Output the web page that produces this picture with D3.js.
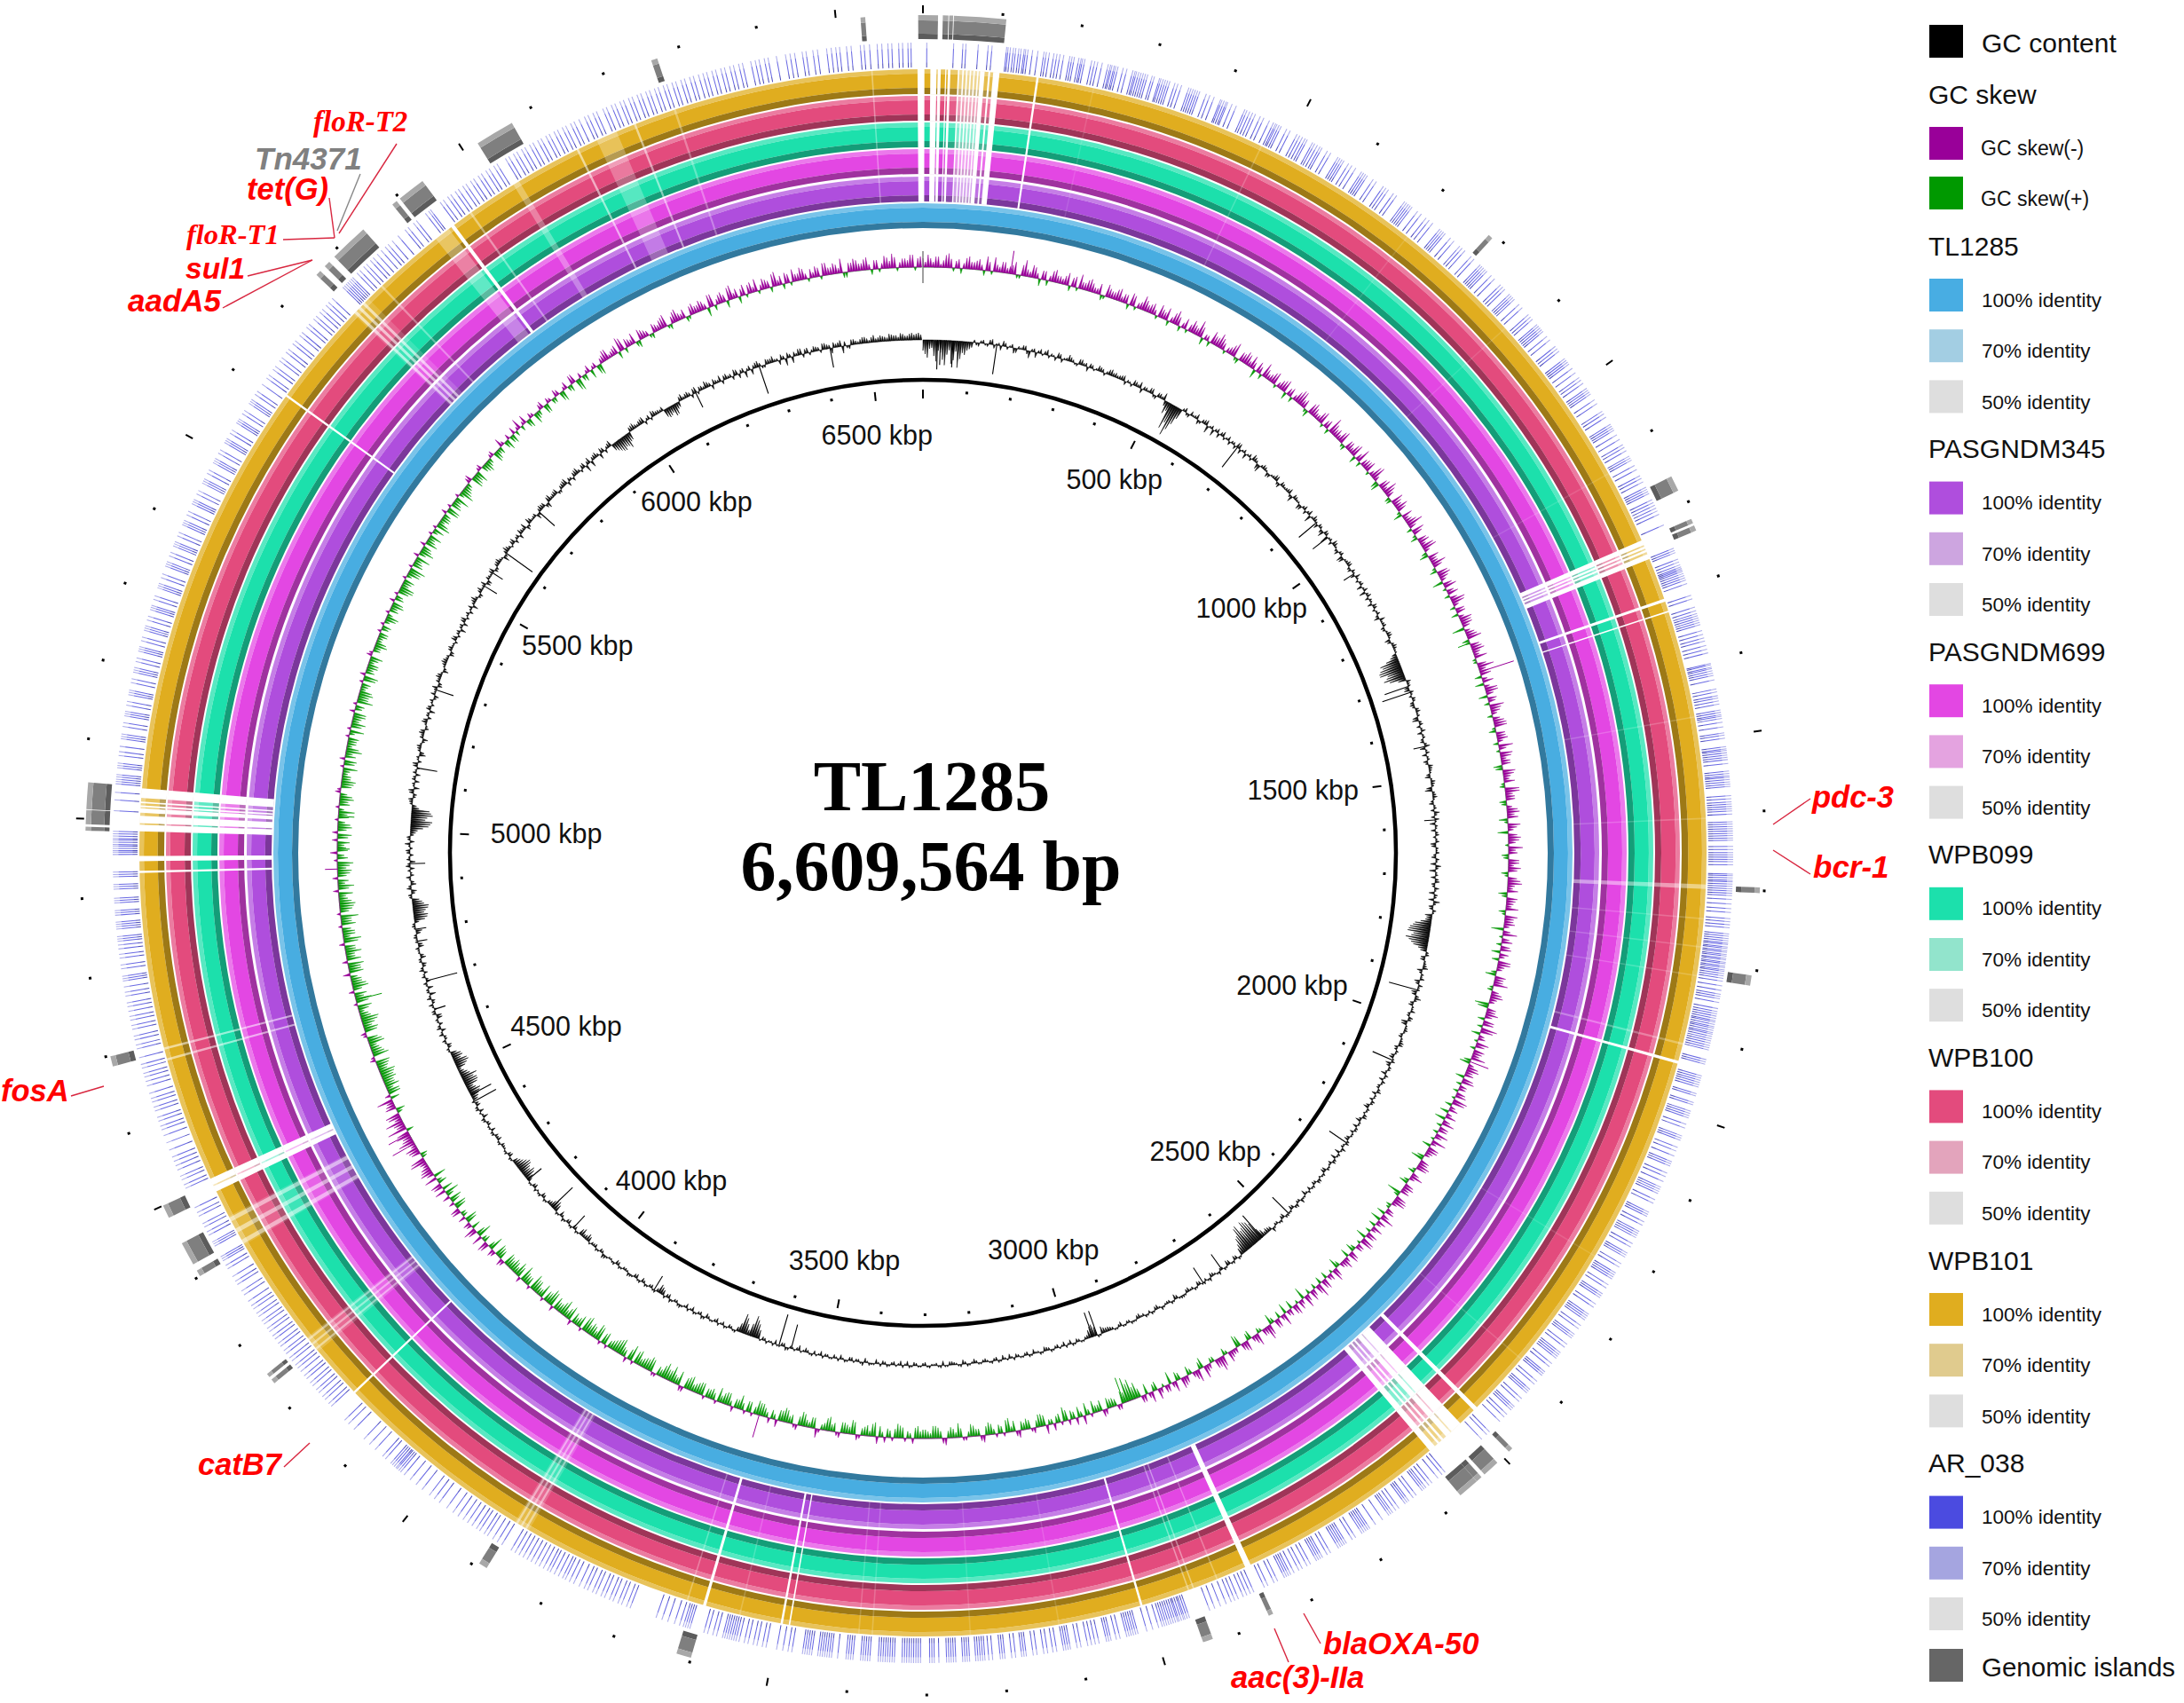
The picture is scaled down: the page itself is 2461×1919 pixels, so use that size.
<!DOCTYPE html>
<html><head><meta charset="utf-8">
<style>html,body{margin:0;padding:0;background:#fff;overflow:hidden}svg{display:block}</style>
<script src="https://cdn.jsdelivr.net/npm/d3@7/dist/d3.min.js"></script>
</head><body><div id="chart"></div>
<script>
// ---------- data (kbp unless noted; every value) ----------
const genomeLength = 6609.564;
const genomeName = "TL1285";
const genomeSize = "6,609,564 bp";
const tickLabelKbp = [500,1000,1500,2000,2500,3000,3500,4000,4500,5000,5500,6000,6500];

const ringNames = ["TL1285","PASGNDM345","PASGNDM699","WPB099","WPB100","WPB101"];
// opaque white breaks in the five comparison rings: [start, end]
const noHitSpans = [[-7.3,103],[153,156],[1221,1248],[1305,1309],[1322,1324],[1935,1939],[2479,2485],[2510,2565],[2851,2859],[3006,3009],[3484,3486],[3494,3497],[3600,3604],[4157,4160],[4487,4506],[4930,4933],[4946,4953],[4986,5044],[5611,5614],[5930,5935]];
// coloured fragments inside the breaks: [start, end, strength]
const fragmentSpans = [[2,10,1],[18.4,19.8,1],[24,30,1],[31.6,33.6,1],[37,47,.9],[49,53,.55],[55,58,.55],[60,63,.5],[65,68,.5],[70,73,.5],[75,77,.5],[83,88,.8],[90.5,94.5,.8],[1228,1230,.6],[1233,1235,.6],[1238,1241,.6],[2526,2528,.35],[2536,2541,.55],[2544,2548,.55],[2551,2556,.55],[4495,4497,.4],[4995,4997,.7],[5007,5011,.7],[5017,5018.5,.7],[5021,5024,.7],[5026,5031,.7]];
// low-identity pale bands: [start, end, paleness]
const lowIdentitySpans = [[230,232,.12],[469,471,.2],[700,702,.12],[880,882,.12],[1120,1122,.12],[1468,1470,.2],[1605,1607,.2],[1695,1701,.45],[1740,1742,.2],[1778,1780,.2],[1817,1819,.2],[1910,1913,.3],[2220,2222,.12],[2390,2392,.15],[2899,2901,.3],[2933,2935,.4],[2940,2942,.4],[3120,3122,.15],[3240,3242,.15],[3372,3374,.2],[3390,3392,.2],[3552,3554,.2],[3625,3627,.3],[3859,3881,.18],[3862,3865,.45],[3869,3872,.45],[3876,3879,.45],[4232,4256,.18],[4235,4238,.45],[4243,4246,.45],[4251,4254,.45],[4406,4450,.15],[4408,4414,.5],[4425,4431,.5],[4442,4448,.5],[4675,4678,.55],[4690,4693,.55],[5754,5783,.15],[5756,5760,.6],[5764,5768,.6],[5772,5776,.6],[5806,5809,.35],[5904,5926,.3],[5961,5964,.4],[6031,6040,.3],[6128,6131,.55],[6158,6187,.26],[6212,6215,.5],[6269,6272,.3],[6540,6542,.35]];

// AR_038 hit positions
const ar038Hits = [5,40,52,56,72,85,90,
109,111,114,118,121,125,128,132,134,137,143,150,158,161,165,171,175,179,184,192,195,198,204,207,209,212,221,225,229,235,243,246,248,251,253,256,263,268,276,279,281,284,287,290,293,296,302,305,312,314,317,320,323,326,333,337,342,352,355,358,361,364,367,376,381,387,396,398,401,404,406,412,418,430,433,437,441,445,452,457,465,471,474,476,479,482,490,495,505,509,513,517,520,528,531,535,539,542,
550,555,566,569,572,575,582,587,593,602,605,608,611,620,625,636,640,644,652,657,670,673,676,679,682,691,697,705,710,716,728,731,734,737,746,752,762,766,771,782,787,798,801,804,807,810,818,824,835,839,843,852,855,858,861,870,876,888,892,896,905,908,911,914,917,925,931,942,946,950,962,965,968,971,978,985,993,997,1002,1010,1013,1016,1019,1028,1034,1046,1050,1055,1066,1069,1072,1075,1082,1089,1097,1101,1106,1114,1117,1120,1128,1134,1143,1147,1152,1160,1163,1166,1169,1178,1182,1186,1190,1194,1199,1214,1247,1250,1253,
1262,1266,1270,1273,1275,1277,1279,1282,1285,1288,1291,1296,1312,1317,1328,1333,1337,1340,1343,1346,1349,1352,1360,1365,1370,1374,1380,1385,1390,1404,1406,1409,1411,1414,1417,1420,1426,1438,1442,1447,1450,1454,1458,1466,1469,1472,1474,1477,1482,1488,1496,1499,1503,1514,1517,1519,1522,1525,1528,1531,1536,1546,1549,1552,1554,1557,1560,1563,1566,1578,1582,1586,1589,1592,1595,1598,1602,1612,1615,1618,1621,1624,1627,1630,1633,1636,1644,1648,1652,1655,1658,1661,1664,1668,1680,1682,1685,1688,1690,1693,1696,1699,1702,1705,1708,1713,1719,1725,1730,1738,1742,1746,1750,1758,1761,1764,1767,1770,1772,1775,1777,1780,1782,1785,1787,1790,1792,1795,1797,1800,1802,1805,1807,1810,1813,1816,1820,1826,1832,1837,1840,1843,1848,1856,1860,1863,1866,1869,1872,1874,1877,1880,1882,1885,1888,1890,1893,1896,1899,1902,1905,1908,1911,1924,1927,1930,
1946,1949,1952,1955,1958,1961,1970,1973,1982,1985,1994,1997,2000,2003,2012,2017,2028,2031,2034,2044,2049,2056,2064,2067,2070,2080,2085,2092,2100,2103,2106,2109,2118,2123,2136,2139,2142,2150,2155,2164,2167,2170,2173,2182,2187,2196,2199,2202,2212,2217,2226,2229,2232,2235,2244,2249,2258,2261,2264,2274,2279,2290,2293,2296,2299,2308,2313,2322,2325,2328,2338,2343,2352,2355,2358,2361,2370,2375,2384,2387,2390,2400,2405,2414,2417,2420,2430,2435,2444,2447,2450,2458,2463,2471,2490,2495,2504,
2568,2573,2580,2590,2595,2600,2603,2606,2616,2621,2628,2631,2634,2644,2649,2654,2657,2660,2670,2681,2690,2693,2696,2699,2702,2712,2717,2726,2729,2732,2735,2738,2750,2755,2762,2765,2768,2771,2780,2785,2792,2797,2804,2809,2812,2815,2818,2828,2833,2842,2847,2862,2867,2872,2877,2884,2889,2894,2901,2909,2917,2924,2952,2955,2958,2960,2963,2966,2968,2971,2974,2977,2980,2983,2986,2989,2994,3002,3010,3022,3025,3028,3031,3034,3037,3046,3051,3058,3061,3064,3074,3079,3084,3089,3098,3103,3112,3115,3118,3121,3130,3135,3142,3147,3156,3161,3170,3173,3176,3184,3189,3198,3201,3204,3214,3219,3224,3227,3230,3233,3236,3244,3247,3250,3253,3262,3265,3268,3271,3274,3284,3290,3293,3296,3308,3311,3314,3317,3320,3323,3326,3329,3332,3342,3345,3348,3351,3354,3357,3360,3363,3374,3377,3380,3383,3386,3396,3399,3402,3405,3416,3424,3427,3430,3433,3436,3439,3442,3450,3453,3456,3459,3462,3476,3481,3488,3496,3510,3515,3522,3527,3534,3539,3546,3550,3553,3556,3559,3562,3565,3568,3576,3581,3588,3593,
3612,3615,3618,3621,3626,3633,3642,3650,3658,3694,3699,3706,3711,3718,3723,3730,3735,3742,3747,3754,3759,3766,3774,3780,3786,3790,3796,3802,3808,3812,3818,3824,3830,3836,3842,3848,3854,3860,3866,3880,3887,3894,3902,3907,3914,3919,3926,3933,3940,3948,3956,3966,3978,3986,3994,4006,4016,4026,4036,4042,4045,4048,4050,4053,4056,4059,4068,4073,4086,4096,4106,4124,4134,4141,4166,4171,4178,4183,4190,4195,4202,4207,4214,4219,4226,4232,4237,4244,4249,4256,4261,4268,4273,4280,4285,4292,4297,4304,4309,4316,4321,4328,4333,4340,4350,4356,4366,4371,4378,4390,4395,4402,4405,4408,4424,4427,4430,4440,4445,4452,4457,4468,4473,4480,
4508,4513,4520,4525,4534,4540,4546,4552,4562,4572,4582,4590,4595,4602,4607,4616,4621,4628,4633,4640,4650,4656,4662,4667,4674,4679,4688,4700,4705,4712,4717,4726,4731,4738,4743,4750,4756,4761,4770,4775,4782,4790,4793,4796,4806,4811,4820,4825,4832,4837,4842,4845,4848,4858,4861,4864,4867,4876,4879,4882,4892,4895,4898,4910,4913,4916,4926,4929,4932,4955,4958,4960,4963,4966,4968,4971,4974,4976,4979,4982,4985,5012,5026,5036,
5047,5050,5053,5056,5059,5068,5071,5074,5084,5089,5096,5106,5109,5112,5122,5127,5136,5139,5142,5150,5155,5164,5167,5170,5180,5185,5194,5197,5200,5208,5213,5222,5225,5228,5236,5241,5250,5253,5256,5264,5269,5278,5281,5284,5292,5297,5308,5311,5314,5322,5327,5338,5341,5344,5352,5357,5366,5369,5372,5380,5385,5396,5399,5402,5410,5415,5426,5429,5432,5440,5445,5456,5459,5462,5470,5475,5486,5489,5492,5500,5505,5516,5519,5522,5530,5535,5546,5549,5552,5560,5565,5576,5579,5582,5590,5595,5606,
5616,5621,5630,5635,5644,5649,5658,5663,5672,5677,5686,5691,5700,5705,5714,5719,5726,5731,5738,5743,5750,5770,5773,5776,5779,5782,5785,5788,5796,5801,5808,5813,5820,5825,5832,5839,5846,5851,5858,5868,5880,5885,5894,5899,5914,5919,5922,5938,5943,5950,5955,5962,5967,5974,5979,5986,5991,5998,6003,6010,6015,6022,6027,6040,6045,6052,6057,6064,6069,6076,6081,6088,6093,6100,6105,6112,6117,6124,6129,6136,6141,6148,6156,6161,6168,6173,6182,6187,6194,6199,6206,6211,6218,6223,6230,6235,6242,6247,6254,6259,6266,6271,6278,6283,6290,6295,6302,6307,6314,6320,6325,6332,6337,6344,6349,6356,6361,6368,6373,6384,6390,6395,6402,6407,6418,6430,6436,6442,6452,6457,6466,6472,6484,6490,6496,6501,6510,6516,6528,6533,6540,6550,6556,6564,6569,6578,6583,6590,6594];

// genomic islands: [start, end]
const islandSpans = [[-6,19],[25,32],[33,38],[39,105],[780,786],[1162,1182],[1221,1227],[1230,1237],[1696,1703],[1807,1820],[2484,2490],[2510,2532],[2537,2545],[2545,2572],[2851,2857],[2933,2946],[3600,3619],[3881,3892],[4236,4242],[4246,4251],[4400,4408],[4417,4447],[4483,4500],[4686,4699],[4985,4990],[4993,5011],[5012,5046],[5758,5765],[5773,5781],[5790,5840],[5888,5895],[5900,5936],[6020,6070],[6262,6270],[6531,6537]];

// GC skew, two interleaved reads per 0.5 degree: positive = GC skew(-) purple, negative = GC skew(+) green
const gcSkewBins = [
5,7,3,6,4,8,-2,5,3,7,4,6,-3,5,8,3,6,4,7,-2,9,3,6,-4,5,3,7,4,5,-3,6,8,4,7,3,6,-2,5,4,7,5,-3,6,3,8,
4,6,-2,5,7,3,8,-3,6,4,5,9,-4,3,7,5,6,-2,4,8,-3,5,6,7,-5,4,8,3,6,-2,5,7,4,-3,6,8,5,-4,7,3,6,-2,5,9,4,
3,7,-3,5,6,-4,8,4,5,-2,7,3,-5,6,8,4,-3,5,7,-2,6,4,9,-3,5,-4,6,7,3,-5,4,8,-2,6,5,-6,7,4,-3,8,3,5,-4,7,6,
-7,5,8,-3,6,4,7,-2,9,5,-4,6,3,7,-5,4,8,5,-3,6,7,-4,5,3,8,-2,6,5,-5,7,4,6,-3,8,5,-4,3,7,6,-2,5,-6,7,4,8,
5,-3,6,7,-4,5,8,3,-5,6,4,7,-2,5,6,-7,8,4,-3,6,5,-4,7,3,-6,5,8,-3,6,4,-8,5,7,-4,6,9,-5,4,7,-3,5,8,-6,6,4,
-5,7,4,-3,6,8,-4,5,3,-6,7,5,-3,4,8,-5,6,3,-7,5,6,-4,7,-3,5,4,-8,6,7,-3,4,-5,8,5,-4,3,6,-6,7,4,-3,5,-5,6,3,
-6,7,4,-4,5,8,-3,6,4,-7,5,6,-5,3,7,-4,5,-6,8,4,-3,5,-5,6,4,-7,3,6,-4,8,5,-3,4,-6,7,3,-5,5,-4,6,-7,4,3,-5,6,
-6,4,-9,-12,-14,-7,3,-5,-6,4,-4,-7,-3,5,-6,-4,3,-8,-5,4,-3,-6,-7,3,-5,-4,4,-6,-8,2,-5,-3,-7,4,-4,-6,-3,2,-8,-5,-4,3,-6,-7,-4,
-5,-7,3,-4,-6,-8,2,-5,-3,4,-7,-6,-4,3,-8,-5,-6,2,-4,-7,-3,5,-6,-4,-8,3,-5,-7,-6,4,-5,-3,-7,-8,2,-6,-4,-5,3,-7,-6,-8,-4,-5,2,
-7,-5,-8,-6,3,-4,-9,-6,-7,-5,2,-8,-6,-4,-7,-9,3,-5,-8,-6,-4,-7,2,-9,-6,-5,-8,-7,-4,3,-6,-9,-5,-7,-8,-6,2,-4,-7,-9,-5,-6,3,-8,-6,
-5,-7,4,-6,3,-8,5,-4,6,-5,7,3,-6,4,-3,5,-7,-5,4,-8,-6,6,-3,-7,7,5,4,8,-4,6,3,9,5,7,11,6,4,8,-5,5,9,3,-7,-8,-6,
-7,-9,-6,-8,2,-7,-5,-9,-6,3,-8,-7,-10,-5,-6,2,-9,-7,-5,-8,-6,4,-7,-9,-8,-5,-6,3,-10,-7,-5,-8,-6,2,-7,-9,-5,-8,-6,-4,3,-7,-5,-9,-6,
4,-5,-7,-6,3,-8,-4,-6,-9,2,-5,-7,3,-6,-8,-5,-4,2,-7,-6,-9,-3,-5,2,-8,-6,-4,-7,3,-5,-9,-6,-7,-4,2,-8,-5,-6,-3,-7,2,-4,-6,-3,-5,
-4,2,-6,-3,-5,-7,3,-4,-6,-8,-5,2,-7,-9,-6,-4,3,-8,-5,-7,-4,2,-6,-8,-3,-5,3,-7,-6,-4,2,-8,-5,-3,4,-6,-7,3,-5,-4,2,-6,-3,5,-4,
3,-5,-3,6,2,-4,3,-6,-3,4,-5,2,-3,3,-6,4,-4,5,-7,-3,2,-5,3,-6,4,6,3,5,8,-3,4,6,-4,5,3,-3,4,5,7,-3,6,4,5,-2,6,
4,5,-5,7,3,6,-4,8,5,4,-2,6,7,3,5,-3,8,5,6,-2,4,7,3,5,6,-2,7,4,5,8,-3,5,6,4,7,-3,5,3,6,8,-2,5,4,7,5];
const gcSkewBinsB = [
3,5,6,2,7,5,4,-3,6,4,5,3,8,-2,4,6,3,5,-2,6,4,7,3,5,-3,6,4,3,7,5,-2,4,6,5,3,-3,7,4,6,3,5,7,-2,4,6,
5,3,7,4,-3,6,5,3,-2,7,4,6,3,-3,5,8,4,3,6,-2,5,7,3,4,6,-3,5,4,7,3,6,-4,5,3,8,4,-2,6,5,3,7,4,-3,6,5,
6,-2,5,3,7,4,-3,5,6,3,8,-4,5,3,6,-3,7,4,5,-5,3,6,4,7,-2,5,3,8,-3,6,4,5,-4,7,3,5,-2,6,4,7,-3,5,3,6,4,
3,6,-4,5,7,3,-2,5,4,6,3,-5,7,4,5,-3,6,3,4,7,-2,5,6,-3,4,7,3,5,-4,6,3,-2,8,4,5,-3,6,4,-5,7,3,5,6,-2,4,
-4,6,3,5,-2,7,4,6,-3,5,3,-4,7,5,3,4,-2,6,5,-5,3,7,4,-3,6,5,-2,4,7,3,-6,5,4,6,-3,7,3,-2,5,6,4,-4,3,7,5,
6,-3,4,5,-2,7,3,-5,6,4,-3,5,7,-2,3,6,4,-4,5,7,-2,4,3,-5,6,5,-3,7,3,-2,5,4,-6,3,6,-3,5,7,-2,4,-5,6,3,4,-3,
5,-2,3,6,-4,5,4,-3,7,3,-2,5,4,-6,3,5,-3,6,4,-2,7,3,-4,5,-6,3,4,-2,6,5,-3,3,7,-4,5,-3,4,6,-5,3,4,-2,6,-4,3,
4,-5,-7,-10,-6,3,-4,-5,3,-6,-4,2,-7,-3,4,-5,-6,2,-4,-3,5,-7,-4,2,-6,-5,3,-3,-7,-4,2,-6,-5,3,-4,-7,2,-5,-3,-6,4,-4,-7,-3,-5,
-4,-6,-3,2,-7,-5,-4,3,-6,-8,-3,-5,2,-7,-4,-6,3,-5,-8,-4,2,-6,-3,-7,-5,2,-4,-8,-6,-3,3,-5,-7,-4,-6,2,-8,-5,-3,-7,-4,2,-6,-5,-7,
-6,-4,-7,3,-8,-5,-6,-9,-4,2,-7,-6,-5,-8,2,-6,-4,-9,-7,-5,2,-6,-8,-4,-7,-9,2,-5,-6,-8,-4,-7,-5,3,-9,-6,-8,-4,-7,2,-5,-9,-6,-4,-7,
-6,3,-5,-7,4,-4,6,-3,-8,5,-5,4,-7,-3,5,-6,3,-7,-4,6,5,-5,7,4,6,3,9,-3,5,7,4,6,8,-4,5,10,7,-3,6,4,-5,-7,-4,-6,-8,
-8,-5,-7,3,-9,-6,-4,-8,2,-7,-5,-9,-6,-3,-8,-7,-5,3,-9,-6,-4,-8,-7,3,-5,-9,-6,-8,-4,-7,2,-6,-10,-5,-8,-7,-4,3,-9,-6,-5,-8,-7,2,-4,
-6,-4,3,-8,-5,-7,2,-5,-3,-6,-8,-4,2,-7,-5,-3,-8,-6,3,-4,-7,-5,-6,-3,2,-8,-5,-7,-4,2,-6,-8,-3,-5,-7,3,-4,-6,-5,3,-4,-7,-3,-5,2,
-5,-3,-7,2,-4,-6,-5,2,-8,-4,-6,-3,-7,2,-5,-8,-4,-6,3,-5,-7,-3,2,-6,-5,-4,-7,2,-5,-8,-3,-6,-4,3,-7,-5,2,-4,-6,-3,3,-5,-4,2,-6,
-4,4,2,-3,5,-5,2,-4,3,-5,3,-3,4,-5,2,-3,5,-6,3,-4,4,2,-5,3,6,2,4,-4,7,5,3,-3,6,4,-2,5,3,6,-2,4,7,3,-3,5,4,
6,3,7,-3,5,4,7,3,-4,6,5,3,-2,6,4,7,3,-3,5,7,4,6,-2,3,5,7,4,6,3,-3,5,7,4,6,3,5,-2,7,4,6,3,5,7,-2,6];
// isolated long skew spikes: [position, value]
const gcSkewSpikes = [[158,13],[1322,20],[1267,-7],[2036,11],[2936,-15],[3603,13],[4411,14],[4431,13],[4690,-15],[4928,7],[4964,-7],[5023,-9]];

// GC content, two interleaved reads per 0.5 degree (negative points to the centre)
const gcContentBins = [
-12,-20,-9,-24,-14,-28,-11,-22,-30,-13,-10,-6,-3,3,-2,5,-4,3,6,-3,4,-5,2,5,-8,4,3,-2,6,3,-4,5,2,7,3,-3,6,4,5,-2,6,4,3,7,5,
4,6,3,-3,5,7,4,2,6,-4,5,8,-14,-30,-36,-20,3,-3,5,3,-5,4,6,2,-7,5,4,-3,5,3,-4,6,2,-6,4,7,3,-8,5,2,-4,3,6,-5,4,
3,6,-7,4,2,-5,5,3,-8,6,2,4,-4,5,-9,3,6,2,-5,4,-6,3,5,-4,2,6,-3,4,2,-7,5,3,-5,4,2,-3,6,3,-4,2,5,-6,3,4,2,
-8,-22,-24,-26,-20,-18,5,3,-6,2,4,-4,-3,5,3,-7,4,2,-5,3,-4,6,2,-5,3,-3,4,2,-6,5,3,-8,4,2,-5,3,6,-4,2,3,-5,4,2,-6,3,
4,-5,2,6,-7,3,4,-4,5,-6,3,7,-5,4,-8,-7,-18,-23,-25,-20,-22,-16,-7,4,-5,3,6,-3,2,-6,5,3,-5,7,-4,2,5,-3,4,-6,3,2,-4,3,5,
-3,2,-5,4,-4,3,-6,2,4,-3,3,-5,2,4,-4,3,-2,5,-6,2,3,-4,2,-5,4,-3,2,3,-6,4,-2,3,-5,2,4,-3,3,-4,-2,2,5,-3,3,-5,2,
3,-4,2,-3,5,-5,-4,-12,-26,-30,-22,-28,-18,-8,3,-5,2,-6,3,-3,2,-4,4,-3,2,-5,3,-2,-4,3,2,-6,3,-3,2,-2,-4,3,2,-3,-5,2,3,-3,2,
-3,2,-4,-5,-8,3,-14,-9,-3,2,-4,3,-2,-5,2,-3,3,-4,2,-2,-5,3,-3,2,-4,-2,2,-5,3,-3,2,-4,2,-3,-2,3,-5,2,-3,-4,2,3,-3,-2,2,
-3,2,-4,3,-2,-5,2,-3,3,-4,-2,2,3,-5,2,-3,-4,2,-2,3,-4,2,-3,-5,2,3,-3,-2,-6,2,-3,4,-4,2,3,-2,-3,2,-16,-24,-6,-18,-10,3,-3,
2,-4,3,-3,2,-5,4,-3,3,-2,-5,2,3,-3,4,-4,-6,-10,3,-4,2,-3,3,-5,2,4,-3,2,-4,3,-2,2,5,-4,3,-3,2,-8,-4,-7,3,-5,2,-4,4,
-6,3,-11,-8,-4,3,-5,2,3,-4,2,-8,-14,-12,-16,-10,-6,3,-4,2,-3,3,-5,-4,3,2,-4,3,-6,2,4,-5,3,-8,-12,-10,-14,-16,-18,-9,-4,-13,-15,-12,-7,
3,-5,4,-3,2,5,-4,3,-6,4,2,-3,5,-7,3,2,-5,4,-4,3,-5,3,-4,2,-6,3,4,-5,2,3,-12,-16,-14,-18,-11,3,-4,5,-6,2,-4,3,5,-6,2,
4,-3,6,3,-4,-8,-20,-24,-18,-22,-8,3,5,-4,6,2,-5,3,4,-3,6,2,-7,3,5,-3,4,6,-4,2,5,3,-6,4,2,-3,5,3,-5,4,6,2,-3,4,5,
3,-4,5,2,6,-3,4,3,-5,6,2,-4,5,3,7,-3,4,2,6,-5,3,5,-4,4,6,2,-3,7,3,5,-4,4,6,3,-5,7,2,4,-3,6,5,-6,7,4,6,
-3,5,7,4,-4,6,3,5,-8,7,4,6,-6,5,3,7,-10,-14,-12,-16,-9,6,4,5,7,3,-3,6,4,5,-11,-8,-12,-6,7,5,4,6,-3,5,8,4,6,3,-4,
6,4,7,-5,5,3,-6,6,4,-3,5,7,3,6,-8,4,5,7,-4,6,3,5,-3,7,4,6,5,-8,-3,6,4,5,7,3,8,5,6,4,7,6,8,5,7,6,8];
const gcContentBinsB = [
-16,-10,-18,-12,-22,-16,-26,-12,-20,-15,-8,3,-4,4,-3,6,2,-5,4,2,-6,3,5,-4,3,-6,5,4,-3,2,6,-4,3,5,-2,6,3,-5,4,2,5,-3,6,4,3,
5,-4,2,6,3,-5,4,6,-3,5,3,-6,-10,-22,-28,-12,5,-4,2,6,-3,5,-8,4,3,-5,6,2,-4,3,6,-5,4,2,-3,5,-6,3,4,-5,2,6,-3,5,2,
4,-3,5,2,-6,3,-4,6,2,4,-5,3,-7,4,2,-4,5,-3,3,-7,2,5,-3,4,-5,2,3,-6,5,3,-4,2,5,-3,4,-6,2,4,-3,5,2,-4,5,2,-5,
-14,-20,-26,-18,-24,-9,3,-5,4,-3,3,-5,4,2,-6,3,-4,5,2,-3,3,-6,4,2,-5,5,3,-4,2,4,-6,3,5,-3,2,-4,3,5,-6,2,3,-3,4,-5,2,
-3,4,-6,3,2,-5,5,-3,2,4,-6,3,-4,2,-6,-12,-20,-24,-18,-26,-19,-10,3,-5,2,4,-6,3,5,-4,2,-6,4,3,-5,2,-3,5,-7,2,4,-3,2,5,-4,
3,-4,2,-6,3,-2,4,-5,2,-3,5,2,-4,3,-6,2,4,-3,2,-5,3,2,-4,3,-2,5,-6,2,3,-4,2,-5,3,-2,4,-4,2,3,-6,2,-3,4,-4,2,3,
-5,3,-3,2,-4,-6,-8,-22,-28,-24,-30,-20,-12,2,-4,3,-5,2,-3,4,-2,-5,2,3,-4,2,-3,-5,2,3,-4,2,-3,-2,4,-5,2,-3,3,-2,-4,2,-3,2,-5,
2,-3,-5,-6,2,-10,-12,-4,2,-3,2,-5,3,-2,-4,2,-3,-5,3,-2,2,-4,2,-3,3,-5,-2,2,-4,3,-2,-3,2,-5,2,-3,3,-2,-4,2,-5,2,-2,3,-4,
2,-3,2,-5,3,-2,-4,2,-3,3,-5,2,-2,4,-3,2,-4,3,-5,-2,2,-3,3,-2,-4,2,-5,2,-3,-2,3,-4,2,-5,-2,3,-4,-10,-20,-14,-12,-22,-5,2,-4,
3,-2,-5,2,-3,3,-4,2,-5,3,-2,4,-3,2,-5,3,-8,-4,2,-3,3,-5,2,-4,3,-2,-3,3,-5,2,-2,4,-3,2,-4,-3,-6,-5,-9,2,-4,3,-5,2,-3,
2,-8,-10,-5,2,-4,3,-2,-5,2,-5,-12,-10,-15,-13,-8,2,-5,3,-2,-4,2,-3,3,-5,2,-3,4,-2,-5,3,-4,-6,-10,-14,-8,-16,-13,-11,-6,-10,-16,-9,-11,2,
-4,2,-3,5,-5,3,2,-6,4,-3,5,-4,2,3,-6,4,-3,2,5,-4,3,-6,2,4,-5,2,3,-7,4,-5,-15,-12,-17,-13,-8,4,-6,3,-4,5,-2,-5,3,4,-4,
5,2,-5,4,-6,-14,-22,-16,-24,-20,-5,4,-3,5,-6,3,4,-5,2,5,-4,3,-5,4,2,-6,3,5,-2,6,-4,3,5,-3,4,-5,2,6,-4,3,5,-6,2,6,3,
-5,4,2,-3,5,3,-6,4,5,-3,4,2,-6,5,3,-4,6,3,-5,4,2,6,-3,5,3,-7,4,5,-2,6,3,-5,4,7,-3,5,3,-6,4,5,-4,6,3,5,-3,
4,6,-5,3,5,7,-3,6,4,-7,5,3,6,-4,5,-8,-12,-15,-13,-10,5,7,3,6,-4,5,7,4,3,-9,-10,-13,-7,5,3,6,-4,7,5,3,6,-5,4,7,5,
3,-4,6,4,-7,5,4,7,-3,6,5,3,-5,4,6,-7,3,7,5,-3,6,4,7,5,-6,4,7,5,-4,6,3,7,5,6,4,7,5,8,6,4,7,5,8,7,6];
// isolated long GC-content spikes: [position, value]
const gcContentSpikes = [[30,-33],[36,-28],[62,-30],[152,-33],[694,-28],[918,-25],[956,-21],[1048,-13],[1305,-28],[1318,-33],[1433,-13],[1585,-12],[1937,-33],[2090,-24],[2284,-23],[2471,-25],[2545,-33],[2650,-21],[2697,-20],[2940,-29],[2950,-29],[3578,-28],[3604,-36],[3885,-18],[4094,-19],[4155,-32],[4230,-20],[4425,-28],[4440,-26],[4631,-13],[4692,-36],[4775,-11],[4800,-12],[4935,-17],[5132,-23],[5297,-20],[5532,-16],[5564,-13],[5613,-36],[5721,-23],[6127,-18],[6268,-32],[6418,-22]];

// resistance / element labels
const geneNames = ["floR-T2","Tn4371","tet(G)","floR-T1","sul1","aadA5","pdc-3","bcr-1","fosA","catB7","blaOXA-50","aac(3)-IIa"];

// legend
const legendGroups = ["TL1285","PASGNDM345","PASGNDM699","WPB099","WPB100","WPB101","AR_038"];
const legendLevels = ["100% identity","70% identity","50% identity"];

// ---------- style ----------
const W=2461,H=1919,cx=1040,cy=961;
const ringFull  = ["#48ADE1","#AF4EDD","#E347E3","#1CE0AC","#E34B7D","#E0AD1F"];
const swatchFull= ["#48ADE3","#AF4EDD","#E347E3","#1CE0AC","#E34B7D","#E0AD1F","#4B4BE0"];
const swatchPale= ["#A3CEE3","#CDA5E0","#E4A3E0","#92E4CC","#E3A4BC","#E0CB8E","#A5A5E0"];
const ringOuter = [732,762,793,823,853,883];
const ringWidth = 28;
const genePlace = [ // text x, baseline y, size, style, colour
 [353,148,33,"s","#f00"],[287,191,35,"i","#808080"],[278,225,34.5,"i","#f00"],[210,275,32.5,"s","#f00"],
 [209,314,33.5,"i","#f00"],[144,351,35,"i","#f00"],[2042,910,34.5,"i","#f00"],[2043,989,35,"i","#f00"],
 [1,1241,34.5,"i","#f00"],[223,1662,34.5,"i","#f00"],[1491,1864,34.7,"i","#f00"],[1387,1902,34.7,"i","#f00"]];
const leaders = [[447,162,382,263,"#d8263f"],[406,196,380,260,"#888"],[371,223,377,268,"#d8263f"],[319,270,377,268,"#d8263f"],
 [352,293,279,311,"#d8263f"],[352,293,251,347,"#d8263f"],[1998,929,2040,900,"#d8263f"],[1998,958,2040,985,"#d8263f"],
 [80,1235,117,1224,"#d8263f"],[320,1653,349,1626,"#d8263f"],[1469,1818,1488,1852,"#d8263f"],[1436,1835,1452,1873,"#d8263f"]];
const labelR = [473,462,434,442,463,467,467,465,447,425,454,471,474];
const labelNudge = [-.1,-1.2,-1.1,.8,.4,-.3,.3,-.3,-1,.7,1.4,.4,-.3];

// ---------- scales ----------
const angle = d3.scaleLinear().domain([0,genomeLength]).range([0,2*Math.PI]);
const skewR = d3.scaleLinear().domain([-10,10]).range([640,680]);
const gcR   = d3.scaleLinear().domain([-40,10]).range([538,588]);
const arc = d3.arc();
const polar=(r,a)=>[r*Math.sin(a),-r*Math.cos(a)];

const svg=d3.select("#chart").append("svg").attr("width",W).attr("height",H).attr("viewBox",[0,0,W,H]);
svg.append("rect").attr("width",W).attr("height",H).attr("fill","#fff");
const g=svg.append("g").attr("transform",`translate(${cx},${cy})`);

// bevelled band: three concentric arcs
function bevel(sel,color,rOut,a0,a1,opacity,w=ringWidth){
  const c=d3.color(color), light=d3.interpolateRgb(color,"#fff")(.27), dark=d3.interpolateRgb(color,"#000")(.3);
  const lw=w*.18, dw=w*.25;
  [[rOut-lw,rOut,light],[rOut-w+dw,rOut-lw,c.formatHex()],[rOut-w,rOut-w+dw,dark]].forEach(([i,o,f])=>{
    sel.append("path").attr("d",arc({innerRadius:i,outerRadius:o,startAngle:a0,endAngle:a1})).attr("fill",f).attr("fill-opacity",opacity);
  });
}
// rings
ringNames.forEach((name,k)=>{
  const rg=g.append("g").attr("class","ring").attr("data-name",name);
  bevel(rg,ringFull[k],ringOuter[k],0,2*Math.PI,1);
  if(k===0) return;
  const ri=ringOuter[k]-ringWidth-.5, ro=ringOuter[k]+.5;
  rg.selectAll("path.gap").data(noHitSpans).join("path").attr("class","gap")
    .attr("d",d=>arc({innerRadius:ri,outerRadius:ro,startAngle:angle(d[0]),endAngle:angle(d[1])})).attr("fill","#fff");
  rg.selectAll("path.low").data(lowIdentitySpans).join("path").attr("class","low")
    .attr("d",d=>arc({innerRadius:ri,outerRadius:ro,startAngle:angle(d[0]),endAngle:angle(d[1])})).attr("fill","#fff").attr("fill-opacity",d=>d[2]);
  fragmentSpans.forEach(d=>bevel(rg,ringFull[k],ringOuter[k],angle(d[0]),angle(d[1]),d[2]));
});

// AR_038 hits with a radial gradient that carries the bevel
const defs=svg.append("defs");
const rOutAR=913,rInAR=885;
const grad=defs.append("radialGradient").attr("id","arGrad").attr("gradientUnits","userSpaceOnUse")
  .attr("cx",0).attr("cy",0).attr("r",rOutAR).attr("fx",0).attr("fy",0);
[[rInAR/rOutAR,"#2020a8"],[890/rOutAR,"#2020a8"],[891/rOutAR,"#4444dc"],[906/rOutAR,"#4444dc"],[907/rOutAR,"#9696e6"],[1,"#9696e6"]]
 .forEach(([o,c])=>grad.append("stop").attr("offset",o).attr("stop-color",c));
g.append("g").selectAll("path").data(ar038Hits).join("path")
  .attr("d",d=>arc({innerRadius:rInAR,outerRadius:rOutAR,startAngle:angle(d-.6),endAngle:angle(d+.6)}))
  .attr("fill","url(#arGrad)").attr("fill-opacity",.8);

// genomic islands
g.append("g").selectAll("g").data(islandSpans).join("g").each(function(d){
  const s=d3.select(this),a0=angle(d[0]),a1=angle(d[1]);
  [[917,923,"#5c5c5c"],[923,938,"#7f7f7f"],[938,944,"#a8a8a8"]].forEach(([i,o,f])=>
    s.append("path").attr("d",arc({innerRadius:i,outerRadius:o,startAngle:a0,endAngle:a1})).attr("fill",f));
});

// comb of teeth: each read rises from the baseline and falls straight back
function teeth(a,b){
  const merged=d3.merge(a.map((v,i)=>[v,b[i]===undefined?0:b[i]]));
  const n=merged.length;
  return merged.flatMap((v,i)=>[{p:i/n*genomeLength,v},{p:(i+.5)/n*genomeLength,v:0}]);
}
const skewTeeth=teeth(gcSkewBins,gcSkewBinsB);
const skewPos=d3.areaRadial().angle(d=>angle(d.p)).innerRadius(skewR(0)).outerRadius(d=>skewR(Math.max(d.v,0)));
const skewNeg=d3.areaRadial().angle(d=>angle(d.p)).innerRadius(d=>skewR(Math.min(d.v,0))).outerRadius(skewR(0));
g.append("path").attr("d",skewNeg(skewTeeth)).attr("fill","#0a9a0a").attr("stroke","#0a9a0a").attr("stroke-width",.45);
g.append("path").attr("d",skewPos(skewTeeth)).attr("fill","#990099").attr("stroke","#990099").attr("stroke-width",.45);
g.append("g").selectAll("line").data(gcSkewSpikes).join("line")
  .attr("x1",d=>polar(skewR(0),angle(d[0]))[0]).attr("y1",d=>polar(skewR(0),angle(d[0]))[1])
  .attr("x2",d=>polar(skewR(d[1]),angle(d[0]))[0]).attr("y2",d=>polar(skewR(d[1]),angle(d[0]))[1])
  .attr("stroke",d=>d[1]>0?"#990099":"#0a9a0a").attr("stroke-width",1);
g.append("line").attr("y1",-skewR(9)).attr("y2",-skewR(-9)).attr("stroke","#777").attr("stroke-width",1.4);
// GC content
const gc0=gcR(0);
const gcTeeth=teeth(gcContentBins,gcContentBinsB);
const gcArea=d3.areaRadial().angle(d=>angle(d.p)).innerRadius(gc0).outerRadius(d=>gcR(d.v));
g.append("path").attr("d",gcArea(gcTeeth)).attr("fill","#111").attr("stroke","#000").attr("stroke-width",.5);
g.append("g").selectAll("line").data(gcContentSpikes).join("line")
  .attr("x1",d=>polar(gc0,angle(d[0]))[0]).attr("y1",d=>polar(gc0,angle(d[0]))[1])
  .attr("x2",d=>polar(gcR(d[1]),angle(d[0]))[0]).attr("y2",d=>polar(gcR(d[1]),angle(d[0]))[1])
  .attr("stroke","#000").attr("stroke-width",1.1);

// backbone circle and ticks
g.append("circle").attr("r",533).attr("fill","none").attr("stroke","#000").attr("stroke-width",4.5);
const ticks=d3.range(0,6600,100);
const major=t=>t%500===0;
function tickLayer(ri,ro,riM,roM){
  g.append("g").selectAll("line").data(ticks).join("line")
   .attr("x1",t=>polar(major(t)?riM:ri,angle(t))[0]).attr("y1",t=>polar(major(t)?riM:ri,angle(t))[1])
   .attr("x2",t=>polar(major(t)?roM:ro,angle(t))[0]).attr("y2",t=>polar(major(t)?roM:ro,angle(t))[1])
   .attr("stroke","#000").attr("stroke-width",t=>major(t)?2:3);
}
tickLayer(519,522,512,522);
tickLayer(947.5,950.5,946,955);

// tick labels
g.append("g").selectAll("text").data(tickLabelKbp).join("text")
  .attr("x",(d,i)=>polar(labelR[i],angle(d)+labelNudge[i]*Math.PI/180)[0])
  .attr("y",(d,i)=>polar(labelR[i],angle(d)+labelNudge[i]*Math.PI/180)[1])
  .attr("text-anchor","middle").attr("dominant-baseline","central")
  .attr("font-family","'Liberation Sans',Arial,sans-serif").attr("font-size",30.5).attr("fill","#111")
  .text(d=>d+" kbp");

// title
svg.append("g").attr("font-family","'Liberation Serif','Times New Roman',serif").attr("font-weight","bold").attr("text-anchor","middle").attr("fill","#000")
 .selectAll("text").data([[genomeName,1050,913],[genomeSize,1049,1003]]).join("text")
 .attr("x",d=>d[1]).attr("y",d=>d[2]).attr("font-size",80).text(d=>d[0]);

// gene labels + leaders
svg.append("g").selectAll("line").data(leaders).join("line")
  .attr("x1",d=>d[0]).attr("y1",d=>d[1]).attr("x2",d=>d[2]).attr("y2",d=>d[3]).attr("stroke",d=>d[4]).attr("stroke-width",1.4);
svg.append("g").selectAll("text").data(geneNames).join("text")
  .attr("x",(d,i)=>genePlace[i][0]).attr("y",(d,i)=>genePlace[i][1]).attr("font-size",(d,i)=>genePlace[i][2])
  .attr("font-family",(d,i)=>genePlace[i][3]==="s"?"'Liberation Serif',serif":"'Liberation Sans',Arial,sans-serif")
  .attr("font-weight","bold").attr("font-style","italic").attr("fill",(d,i)=>genePlace[i][4]).text(d=>d);

// legend
const lg=svg.append("g").attr("font-family","'Liberation Sans',Arial,sans-serif").attr("fill","#111");
const sw=(y,c)=>lg.append("rect").attr("x",2174).attr("y",y).attr("width",38).attr("height",37).attr("fill",c);
const tx=(x,y,s,t)=>lg.append("text").attr("x",x).attr("y",y).attr("font-size",s).attr("dominant-baseline","central").text(t);
sw(28,"#000"); tx(2233,48,30,"GC content");
tx(2173,106,30,"GC skew");
sw(143,"#990099"); tx(2232,167,23,"GC skew(-)");
sw(199,"#009900"); tx(2232,224,23,"GC skew(+)");
legendGroups.forEach((n,k)=>{
  const y0=277+k*228.6;
  tx(2173,y0,30,n);
  [swatchFull[k],swatchPale[k],"#DEDEDE"].forEach((c,j)=>{
    sw(y0+37+j*57.2,c);
    tx(2233,y0+61+j*57.5,22.5,legendLevels[j]);
  });
});
sw(1858,"#666666"); tx(2233,1878,29.5,"Genomic islands");
</script></body></html>
